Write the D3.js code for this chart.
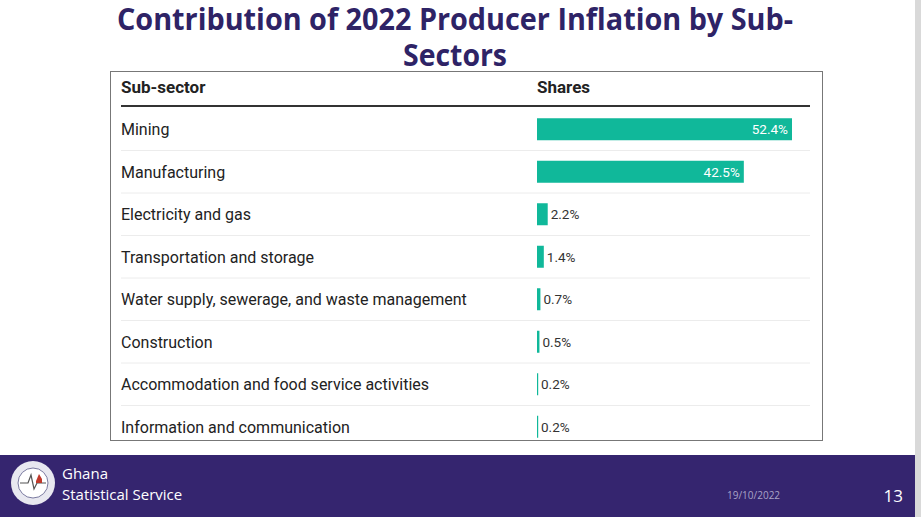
<!DOCTYPE html>
<html>
<head>
<meta charset="utf-8">
<script src="https://cdn.jsdelivr.net/npm/d3@7"></script>
<style>
  body { margin: 0; background: #fff; }
  svg { display: block; }
</style>
</head>
<body>
<svg id="chart" width="921" height="517"></svg>
<script>
var sectors = ["Mining", "Manufacturing", "Electricity and gas", "Transportation and storage",
  "Water supply, sewerage, and waste management", "Construction",
  "Accommodation and food service activities", "Information and communication"];
var shares = [52.4, 42.5, 2.2, 1.4, 0.7, 0.5, 0.2, 0.2];
var titleLines = ["Contribution of 2022 Producer Inflation by Sub-", "Sectors"];
var titleWidths = [676, 104];

var svg = d3.select("#chart");
var W = 921, H = 517;
var purple = "#35256f", teal = "#10b89a";

// slide right edge
svg.append("rect").attr("x", 915).attr("y", 0).attr("width", 6).attr("height", H).attr("fill", "#d9d9d9");

// title (condensed look via textLength)
svg.selectAll(".title").data(titleLines).enter().append("text")
  .attr("x", 455).attr("y", function (d, i) { return 30 + i * 36; })
  .attr("text-anchor", "middle")
  .attr("textLength", function (d, i) { return titleWidths[i]; })
  .attr("lengthAdjust", "spacingAndGlyphs")
  .attr("font-family", "'Open Sans', sans-serif")
  .attr("font-weight", "bold").attr("font-size", 30)
  .attr("fill", "#2e2366")
  .text(function (d) { return d; });

// table box
svg.append("rect").attr("x", 110.5).attr("y", 71.5).attr("width", 712).attr("height", 369)
  .attr("fill", "none").attr("stroke", "#777").attr("stroke-width", 1);

var font = "Roboto, sans-serif";
svg.append("text").attr("x", 121).attr("y", 93).attr("font-family", font).attr("font-weight", "bold")
  .attr("font-size", 17).attr("fill", "#222").text("Sub-sector");
svg.append("text").attr("x", 537).attr("y", 93).attr("font-family", font).attr("font-weight", "bold")
  .attr("font-size", 17).attr("fill", "#222").text("Shares");
svg.append("line").attr("x1", 121).attr("x2", 810).attr("y1", 106).attr("y2", 106)
  .attr("stroke", "#333").attr("stroke-width", 2);

var y = d3.scaleBand().domain(sectors).range([108, 448]).paddingInner(0);
var x = d3.scaleLinear().domain([0, 52.4]).range([537, 792]);

var rows = svg.selectAll(".row").data(sectors).enter().append("g").attr("class", "row")
  .attr("transform", function (d) { return "translate(0," + y(d) + ")"; });

rows.filter(function (d, i) { return i < sectors.length - 1; }).append("line")
  .attr("x1", 121).attr("x2", 810).attr("y1", y.bandwidth()).attr("y2", y.bandwidth())
  .attr("stroke", "#ececec").attr("stroke-width", 1);

rows.append("text").attr("x", 121).attr("y", y.bandwidth() / 2 + 6)
  .attr("font-family", font).attr("font-size", 16).attr("fill", "#222")
  .text(function (d) { return d; });

var bh = 22;
rows.append("rect").attr("x", x(0)).attr("y", y.bandwidth() / 2 - bh / 2)
  .attr("width", function (d, i) { return Math.max(1.2, x(shares[i]) - x(0)); })
  .attr("height", bh).attr("fill", teal);

rows.append("text")
  .attr("x", function (d, i) { return shares[i] > 10 ? x(shares[i]) - 4 : Math.max(x(0) + 1, x(shares[i])) + 3; })
  .attr("y", y.bandwidth() / 2 + 5)
  .attr("text-anchor", function (d, i) { return shares[i] > 10 ? "end" : "start"; })
  .attr("font-family", font).attr("font-size", 13.5)
  .attr("fill", function (d, i) { return shares[i] > 10 ? "#fff" : "#333"; })
  .text(function (d, i) { return shares[i].toFixed(1) + "%"; });

// footer
svg.append("rect").attr("x", 0).attr("y", 455).attr("width", 915).attr("height", 62).attr("fill", purple);
var logo = svg.append("g").attr("transform", "translate(33,483)");
logo.append("circle").attr("r", 22).attr("fill", "#e8e8f0");
logo.append("circle").attr("r", 15).attr("fill", "#fff").attr("stroke", "#7a7aa0").attr("stroke-width", 1);
logo.append("path").attr("d", "M-13,0 L-5,0 L-2,-8 L1,6 L4,0 L13,0")
  .attr("fill", "none").attr("stroke", "#555").attr("stroke-width", 1.2);
logo.append("path").attr("d", "M3,-2 L6,-9 L9,-4 L9,0 L3,0 Z").attr("fill", "#c0392b");

var ffont = "'Open Sans', sans-serif";
svg.append("text").attr("x", 62).attr("y", 479).attr("font-family", ffont).attr("font-size", 15)
  .attr("fill", "#fff").text("Ghana");
svg.append("text").attr("x", 62).attr("y", 500).attr("font-family", ffont).attr("font-size", 15)
  .attr("fill", "#fff").text("Statistical Service");
svg.append("text").attr("x", 727).attr("y", 499).attr("font-family", ffont).attr("font-size", 10)
  .attr("fill", "#a9a3c6").text("19/10/2022");
svg.append("text").attr("x", 903).attr("y", 502).attr("text-anchor", "end").attr("font-family", ffont)
  .attr("font-size", 17).attr("fill", "#fff").text("13");
</script>
</body>
</html>
